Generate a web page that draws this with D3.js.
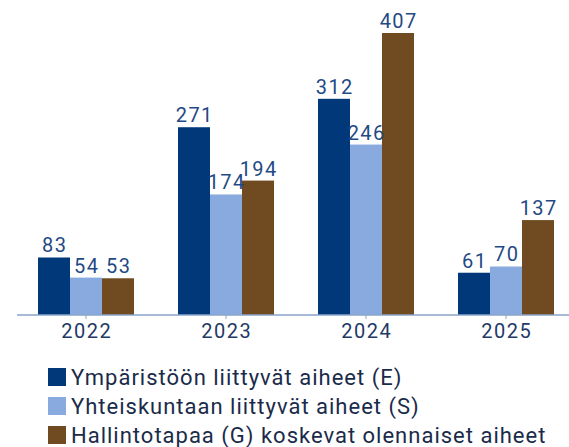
<!DOCTYPE html>
<html>
<head>
<meta charset="utf-8">
<script src="https://cdn.jsdelivr.net/npm/d3@7"></script>
<style>
  body { margin: 0; background: #fff; }
  svg { display: block; }
</style>
</head>
<body>
<svg id="drawing_region"></svg>
<script>
const years = ['2022', '2023', '2024', '2025'];
const seriesNames = [
    'Ympäristöön liittyvät aiheet (E)',
    'Yhteiskuntaan liittyvät aiheet (S)',
    'Hallintotapaa (G) koskevat olennaiset aiheet'
];
const valuesE = [83, 271, 312, 61];
const valuesS = [54, 174, 246, 70];
const valuesG = [53, 194, 407, 137];
const colors = ['#00387a', '#88aadf', '#704a20'];

const width = 569, height = 447;
const baseline = 315;
const font = 'Roboto, sans-serif';

const series = [valuesE, valuesS, valuesG];

const svg = d3.select('#drawing_region')
    .attr('width', width)
    .attr('height', height);

const x0 = d3.scaleBand()
    .domain(years)
    .range([16, 576])
    .paddingInner(44 / 140)
    .paddingOuter(22 / 140);

const x1 = d3.scaleBand()
    .domain(d3.range(series.length))
    .range([0, x0.bandwidth()]);

const y = d3.scaleLinear()
    .domain([0, 407])
    .range([baseline, 33]);

const groups = svg.selectAll('g.year')
    .data(years)
    .enter()
    .append('g')
    .attr('class', 'year')
    .attr('transform', d => `translate(${x0(d)},0)`);

groups.selectAll('rect')
    .data((d, i) => series.map((s, k) => ({ k: k, v: s[i] })))
    .enter()
    .append('rect')
    .attr('x', d => x1(d.k))
    .attr('y', d => y(d.v))
    .attr('width', x1.bandwidth())
    .attr('height', d => baseline - y(d.v))
    .attr('fill', d => colors[d.k]);

// letter-spacing leaves a trailing gap, so nudge centred text right a little
groups.selectAll('text.val')
    .data((d, i) => series.map((s, k) => ({ k: k, v: s[i] })))
    .enter()
    .append('text')
    .attr('class', 'val')
    .attr('x', d => x1(d.k) + x1.bandwidth() / 2 + 0.75)
    .attr('y', d => y(d.v) - 5)
    .attr('text-anchor', 'middle')
    .attr('font-family', font)
    .attr('font-size', '20px')
    .attr('letter-spacing', '1.5px')
    .attr('fill', '#1f4a84')
    .text(d => d.v);

// x axis
const axis = svg.append('g')
    .attr('transform', `translate(0,${baseline})`)
    .call(d3.axisBottom(x0).tickSize(4).tickSizeOuter(0));

axis.select('.domain')
    .attr('stroke', '#8aa4c8')
    .attr('stroke-width', 1.5)
    .attr('d', 'M17,0H569');

axis.selectAll('.tick line').attr('stroke', '#8aa4c8');
axis.selectAll('.tick text')
    .attr('font-family', font)
    .attr('font-size', '20px')
    .attr('letter-spacing', '1.5px')
    .attr('fill', '#1f3a66')
    .attr('dy', '0.71em')
    .attr('x', 0.75)
    .attr('y', 9);

// legend
const legend = svg.append('g')
    .attr('transform', 'translate(48,368)');

const item = legend.selectAll('g')
    .data(seriesNames)
    .enter()
    .append('g')
    .attr('transform', (d, i) => `translate(0,${i * 29})`);

item.append('rect')
    .attr('width', 18)
    .attr('height', 18)
    .attr('fill', (d, i) => colors[i]);

item.append('text')
    .attr('x', 23)
    .attr('y', 17)
    .attr('font-family', font)
    .attr('font-size', '22px')
    .attr('letter-spacing', '1px')
    .attr('fill', '#1a2b4a')
    .text(d => d);
</script>
</body>
</html>
